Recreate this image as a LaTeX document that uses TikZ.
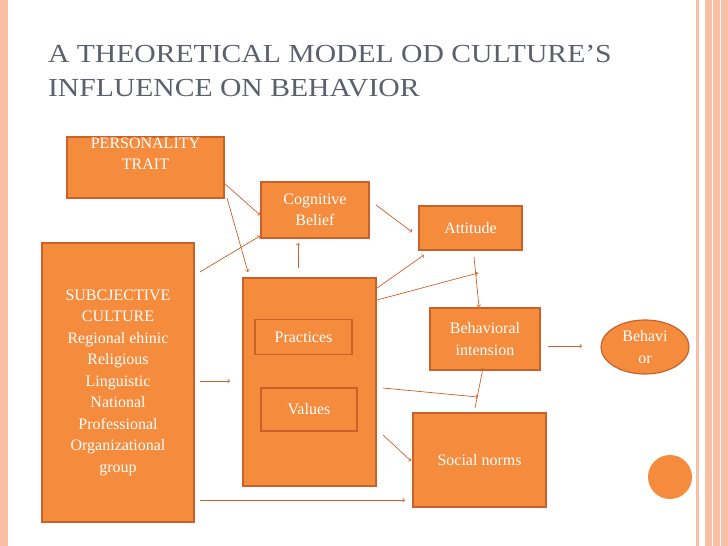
\documentclass[tikz,border=0pt]{standalone}
\usepackage{fontspec}
\setmainfont{Liberation Serif}
\usetikzlibrary{shapes.geometric}
\definecolor{boxfill}{HTML}{F58B3C}
\definecolor{boxline}{HTML}{C9622A}
\definecolor{stripe}{HTML}{F9BFA5}
\definecolor{titlegray}{HTML}{5A606C}
\tikzset{
  box/.style={draw=boxline,fill=boxfill,line width=1.2pt,text=white,font=\fontsize{16}{21.5}\selectfont,align=center,inner sep=0pt},
  conn/.style={->,draw=boxline,line width=0.7pt,>=to}
}
\begin{document}
\begin{tikzpicture}[x=1pt,y=-1pt]
   \useasboundingbox (0,0) rectangle (728,546);
   % frame stripes
   \fill[stripe] (0,0) rectangle (8,546);
   \fill[stripe] (696,0) rectangle (699,546);
   \fill[stripe] (705,0) rectangle (728,546);
   \draw[white,line width=1pt] (712,0) -- (712,546) (720,0) -- (720,546);

   \node[anchor=north west,text=titlegray,align=left,font=\fontsize{26}{34}\selectfont,xscale=1.14,transform shape] (title) at (44,42)
     {A THEORETICAL MODEL OD CULTURE'S\\INFLUENCE ON BEHAVIOR};

   \node[box,minimum width=157,minimum height=61,text height=28,text depth=24] (pers) at (145.5,167.5) {PERSONALITY\\TRAIT};
   \node[box,minimum width=108,minimum height=56] (cog) at (315,210) {Cognitive\\Belief};
   \node[box,minimum width=103,minimum height=44] (att) at (470.5,228) {Attitude};
   \node[box,minimum width=152,minimum height=279] (subj) at (118,382.5)
     {SUBCJECTIVE\\ CULTURE\\Regional ehinic\\Religious\\Linguistic\\National\\Professional\\Organizational\\group};
   \node[box,minimum width=133,minimum height=208] (mid) at (309.5,382) {};
   \node[box,minimum width=97,minimum height=35] (prac) at (303.5,337) {Practices};
   \node[box,minimum width=96,minimum height=43] (val) at (309,409.5) {Values};
   \node[box,minimum width=110,minimum height=62] (bint) at (485,339) {Behavioral\\intension};
   \node[box,minimum width=133,minimum height=94] (soc) at (479.5,460) {Social norms};
   \node[box,ellipse,minimum width=88,minimum height=54] (behav) at (645,347) {Behavi\\or};
   \node[circle,fill=boxfill,minimum size=44,inner sep=0pt] (dot) at (670,477) {};

   \coordinate (p1) at (224,183);   \coordinate (c1) at (260,215);
   \coordinate (p2) at (227,198);   \coordinate (m1) at (248,272);
   \coordinate (s1) at (200,272);   \coordinate (c2) at (260,236);
   \coordinate (m2) at (298,268);   \coordinate (c3) at (298,243);
   \coordinate (c4) at (376,205);   \coordinate (a1) at (412,232);
   \coordinate (m3) at (377,288);   \coordinate (a2) at (424,255);
   \coordinate (m4) at (377,300);   \coordinate (j1) at (478,273);
   \coordinate (a3) at (474,257);   \coordinate (b1) at (479,307);
   \coordinate (s2) at (200,381);   \coordinate (m5) at (230,381);
   \coordinate (m6) at (383,388);   \coordinate (j2) at (478,397);
   \coordinate (n1) at (475,408);   \coordinate (b2) at (483,368);
   \coordinate (m7) at (383,435);   \coordinate (n2) at (411,461);
   \coordinate (s3) at (200,500);   \coordinate (n3) at (405,500);
   \coordinate (b3) at (548,346);   \coordinate (e1) at (582,346);

   \draw[conn] (p1) -- (c1);
   \draw[conn] (p2) -- (m1);
   \draw[conn] (s1) -- (c2);
   \draw[conn] (m2) -- (c3);
   \draw[conn] (c4) -- (a1);
   \draw[conn] (m3) -- (a2);
   \draw[conn] (m4) -- (j1);
   \draw[conn] (a3) -- (b1);
   \draw[conn] (s2) -- (m5);
   \draw[conn] (m6) -- (j2);
   \draw[conn] (n1) -- (b2);
   \draw[conn] (m7) -- (n2);
   \draw[conn] (s3) -- (n3);
   \draw[conn] (b3) -- (e1);
\end{tikzpicture}
\end{document}
